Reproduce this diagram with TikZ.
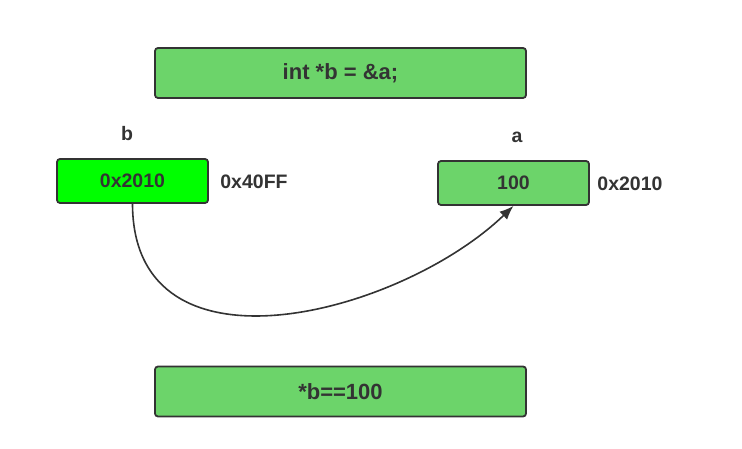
\documentclass[tikz,border=0pt]{standalone}
\usepackage{fontspec}
\setmainfont{Liberation Sans}
\usetikzlibrary{arrows.meta}
\definecolor{boxgreen}{HTML}{6CD46A}
\definecolor{lime}{HTML}{00FF00}
\definecolor{ink}{HTML}{333333}

\begin{document}
\begin{tikzpicture}[x=1pt,y=-1pt,
    cell/.style={draw=ink,line width=1.8pt,rounded corners=3pt,fill=boxgreen,
      text=ink,font=\bfseries\fontsize{19.5}{23}\selectfont,inner sep=0pt},
    wide/.style={cell,minimum width=371pt,minimum height=50pt,
      font=\bfseries\fontsize{22}{26}\selectfont},
    small/.style={cell,minimum width=151pt,minimum height=44pt},
    tag/.style={text=ink,font=\bfseries\fontsize{19.5}{23}\selectfont}]
    \useasboundingbox (0,0) rectangle (742,449);
    \node[wide] (decl) at (340.5,73) {int *b = \&a;};
    \node[small,fill=lime] (ptrb) at (132.5,181) {0x2010};
    \node[small] (vara) at (513.5,183) {100};
    \node[wide] (deref) at (340.5,391.5) {*b==100};
    \node[tag] (nameb) at (127,134) {b};
    \node[tag] (namea) at (517,137) {a};
    \node[tag] (addrb) at (254,182) {0x40FF};
    \node[tag] (addra) at (630,184) {0x2010};
    % pointer b -> a
    \draw[ink,line width=1.6pt,-{Latex[length=14pt,width=11pt]}] (ptrb.south) .. controls (133,385) and (400,315) .. (vara.south);
\end{tikzpicture}
\end{document}
